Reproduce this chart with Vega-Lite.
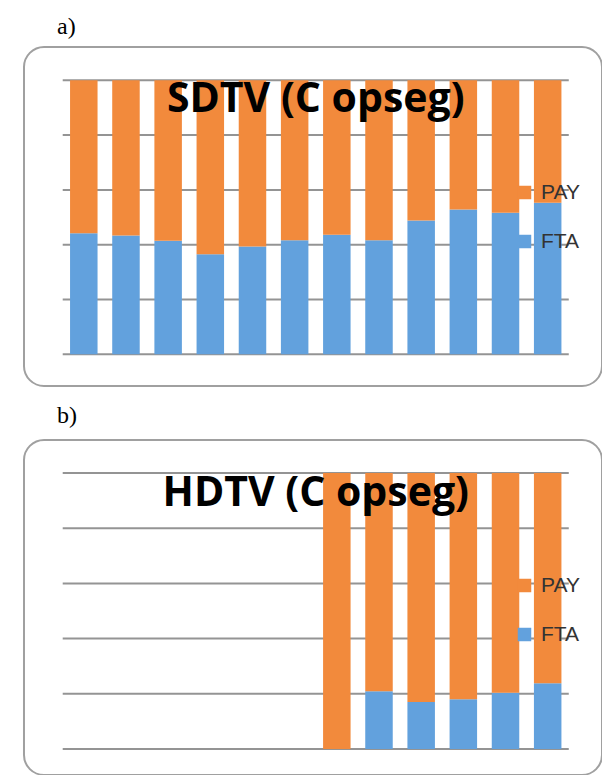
{
  "$schema": "https://vega.github.io/schema/vega-lite/v6.json",
  "padding": {"left": 23, "top": 14, "right": 0, "bottom": 0},
  "background": "white",
  "config": {
    "view": {"stroke": "#a0a0a0", "strokeWidth": 2, "cornerRadius": 20},
    "title": {"font": "Liberation Serif", "fontSize": 24, "fontWeight": "normal", "color": "#000000", "anchor": "start", "frame": "group"},
    "legend": {"padding": 0},
    "scale": {"continuousPadding": 0}
  },
  "resolve": {"scale": {"color": "independent", "x": "independent", "y": "independent"}, "legend": {"color": "independent"}},
  "spacing": 16,
  "vconcat": [
    {
      "title": {"text": "a)", "dx": 33, "offset": 8},
      "width": 578,
      "height": 339,
      "layer": [
        {
          "data": {"values": [{"tick": 0}, {"tick": 20}, {"tick": 40}, {"tick": 60}, {"tick": 80}, {"tick": 100}]},
          "mark": {"type": "rule", "color": "#949494", "strokeWidth": 2},
          "encoding": {
            "y": {"field": "tick", "type": "quantitative", "scale": {"domain": [-11.57, 112.15], "nice": false, "zero": false}, "axis": null},
            "x": {"datum": 0.5, "type": "quantitative", "scale": {"domain": [-0.418, 13.288], "nice": false, "zero": false, "padding": 0}, "axis": null},
            "x2": {"datum": 12.5}
          }
        },
        {
          "data": {"values": [
            {"cat": 1, "type": "FTA", "share": 44.2}, {"cat": 1, "type": "PAY", "share": 55.8},
            {"cat": 2, "type": "FTA", "share": 43.4}, {"cat": 2, "type": "PAY", "share": 56.6},
            {"cat": 3, "type": "FTA", "share": 41.4}, {"cat": 3, "type": "PAY", "share": 58.6},
            {"cat": 4, "type": "FTA", "share": 36.5}, {"cat": 4, "type": "PAY", "share": 63.5},
            {"cat": 5, "type": "FTA", "share": 39.3}, {"cat": 5, "type": "PAY", "share": 60.7},
            {"cat": 6, "type": "FTA", "share": 41.6}, {"cat": 6, "type": "PAY", "share": 58.4},
            {"cat": 7, "type": "FTA", "share": 43.6}, {"cat": 7, "type": "PAY", "share": 56.4},
            {"cat": 8, "type": "FTA", "share": 41.6}, {"cat": 8, "type": "PAY", "share": 58.4},
            {"cat": 9, "type": "FTA", "share": 48.8}, {"cat": 9, "type": "PAY", "share": 51.2},
            {"cat": 10, "type": "FTA", "share": 52.8}, {"cat": 10, "type": "PAY", "share": 47.2},
            {"cat": 11, "type": "FTA", "share": 51.7}, {"cat": 11, "type": "PAY", "share": 48.3},
            {"cat": 12, "type": "FTA", "share": 55.3}, {"cat": 12, "type": "PAY", "share": 44.7}
          ]},
          "mark": {"type": "bar", "size": 27.5},
          "encoding": {
            "x": {"field": "cat", "type": "quantitative"},
            "y": {"field": "share", "type": "quantitative", "stack": "zero"},
            "order": {"field": "type", "sort": "ascending"},
            "color": {
              "field": "type", "type": "nominal",
              "scale": {"domain": ["PAY", "FTA"], "range": ["#F28A3C", "#62A1DD"]},
              "legend": {
                "title": null, "orient": "none", "legendX": 490, "legendY": 135,
                "symbolType": "square", "symbolSize": 182, "symbolStrokeWidth": 0,
                "labelFont": "Liberation Sans", "labelFontSize": 21, "labelColor": "#333333",
                "labelOffset": 6, "rowPadding": 27
              }
            }
          }
        },
        {
          "data": {"values": [{"label": "SDTV (C opseg)"}]},
          "mark": {"type": "text", "font": "Open Sans", "fontWeight": "bold", "fontSize": 41, "color": "#000000", "baseline": "alphabetic", "align": "center"},
          "encoding": {
            "x": {"datum": 6.5, "type": "quantitative"},
            "y": {"datum": 88.4, "type": "quantitative"},
            "text": {"field": "label"}
          }
        }
      ]
    },
    {
      "title": {"text": "b)", "dx": 33, "offset": 12},
      "width": 578,
      "height": 335,
      "layer": [
        {
          "data": {"values": [{"tick": 0}, {"tick": 20}, {"tick": 40}, {"tick": 60}, {"tick": 80}, {"tick": 100}]},
          "mark": {"type": "rule", "color": "#949494", "strokeWidth": 2},
          "encoding": {
            "y": {"field": "tick", "type": "quantitative", "scale": {"domain": [-9.42, 111.96], "nice": false, "zero": false}, "axis": null},
            "x": {"datum": 0.5, "type": "quantitative", "scale": {"domain": [-0.418, 13.288], "nice": false, "zero": false, "padding": 0}, "axis": null},
            "x2": {"datum": 12.5}
          }
        },
        {
          "data": {"values": [
            {"cat": 7, "type": "FTA", "share": 0}, {"cat": 7, "type": "PAY", "share": 100},
            {"cat": 8, "type": "FTA", "share": 20.9}, {"cat": 8, "type": "PAY", "share": 79.1},
            {"cat": 9, "type": "FTA", "share": 17.0}, {"cat": 9, "type": "PAY", "share": 83.0},
            {"cat": 10, "type": "FTA", "share": 18.0}, {"cat": 10, "type": "PAY", "share": 82.0},
            {"cat": 11, "type": "FTA", "share": 20.4}, {"cat": 11, "type": "PAY", "share": 79.6},
            {"cat": 12, "type": "FTA", "share": 23.8}, {"cat": 12, "type": "PAY", "share": 76.2}
          ]},
          "mark": {"type": "bar", "size": 27.5},
          "encoding": {
            "x": {"field": "cat", "type": "quantitative"},
            "y": {"field": "share", "type": "quantitative", "stack": "zero"},
            "order": {"field": "type", "sort": "ascending"},
            "color": {
              "field": "type", "type": "nominal",
              "scale": {"domain": ["PAY", "FTA"], "range": ["#F28A3C", "#62A1DD"]},
              "legend": {
                "title": null, "orient": "none", "legendX": 490, "legendY": 135,
                "symbolType": "square", "symbolSize": 182, "symbolStrokeWidth": 0,
                "labelFont": "Liberation Sans", "labelFontSize": 21, "labelColor": "#333333",
                "labelOffset": 6, "rowPadding": 27
              }
            }
          }
        },
        {
          "data": {"values": [{"label": "HDTV (C opseg)"}]},
          "mark": {"type": "text", "font": "Open Sans", "fontWeight": "bold", "fontSize": 41, "color": "#000000", "baseline": "alphabetic", "align": "center"},
          "encoding": {
            "x": {"datum": 6.5, "type": "quantitative"},
            "y": {"datum": 88.0, "type": "quantitative"},
            "text": {"field": "label"}
          }
        }
      ]
    }
  ]
}
